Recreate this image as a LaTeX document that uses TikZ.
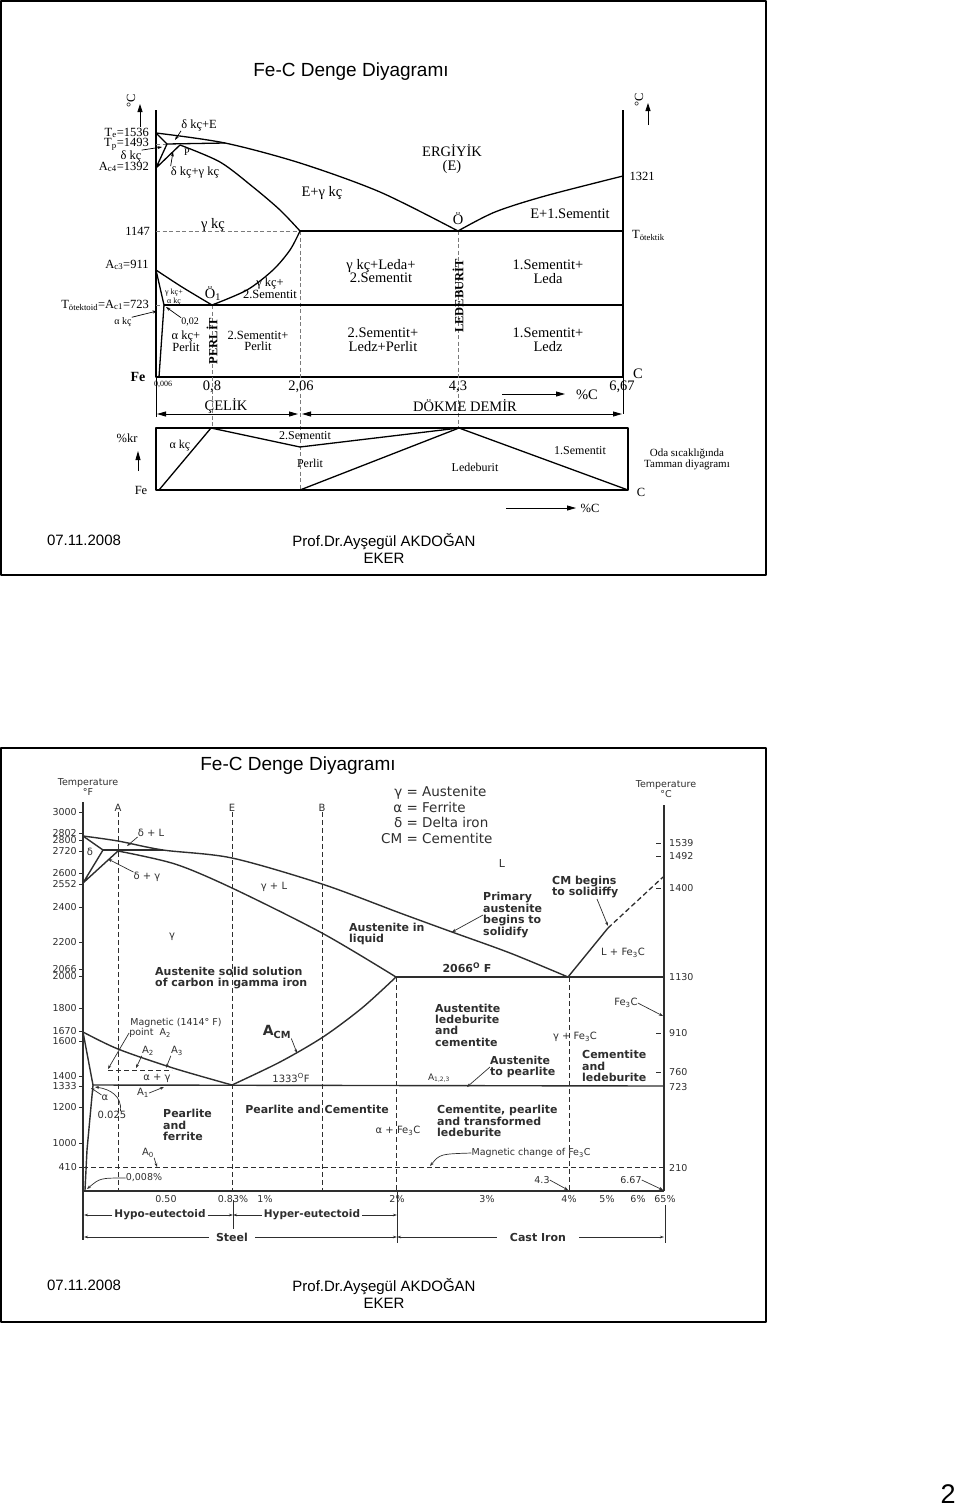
\documentclass[tikz,border=0pt]{standalone}
\usepackage{fontspec}
\setmainfont{Liberation Serif}
\setsansfont{Liberation Sans}
\newfontfamily\gothic{DejaVu Sans}
\usetikzlibrary{arrows.meta}
\definecolor{guidegray}{HTML}{7A7A7A}
\definecolor{plotink}{HTML}{2E2E2E}

\begin{document}
\begin{tikzpicture}[
  x=1pt,
  y=-1pt,
  line join=round,
  slideframe/.style={draw=black,line width=1.8pt},
  slidetitle/.style={font=\sffamily\fontsize{19}{22}\selectfont,inner sep=0pt},
  slidefoot/.style={font=\sffamily\fontsize{15}{17}\selectfont,inner sep=0pt,align=center},
  trline/.style={draw=black,line width=1.3pt},
  trthin/.style={draw=black,line width=0.8pt},
  trguide/.style={draw=guidegray,line width=0.7pt,dash pattern=on 4pt off 2.5pt},
  trlead/.style={draw=black,line width=0.7pt,-{Stealth[length=4.5pt,width=3pt]}},
  trdim/.style={draw=black,line width=0.8pt,-{Triangle[length=9pt,width=5pt]}},
  trdimboth/.style={draw=black,line width=0.8pt,{Triangle[length=9pt,width=5pt]}-{Triangle[length=9pt,width=5pt]}},
  trbig/.style={font=\fontsize{14.5}{13.5}\selectfont,inner sep=0pt,align=center},
  trmid/.style={font=\fontsize{12.5}{11.5}\selectfont,inner sep=0pt,align=center},
  trlow/.style={font=\fontsize{12}{12}\selectfont,inner sep=0pt,align=center},
  trsmall/.style={font=\fontsize{10}{10}\selectfont,inner sep=0pt,align=center},
  trtiny/.style={font=\fontsize{8}{9}\selectfont,inner sep=0pt,align=center},
  trvert/.style={font=\bfseries\fontsize{12.5}{12.5}\selectfont,inner sep=0pt,rotate=90},
  enline/.style={draw=plotink,line width=1.4pt},
  enthin/.style={draw=plotink,line width=0.8pt},
  enguide/.style={draw=plotink,line width=0.9pt,dash pattern=on 5pt off 3pt},
  enlead/.style={draw=plotink,line width=0.7pt,-{Stealth[length=4pt,width=3pt]}},
  endim/.style={draw=plotink,line width=0.7pt,-{Stealth[length=4pt,width=2.5pt]}},
  entick/.style={font=\gothic\fontsize{9.5}{8.5}\selectfont,inner sep=0pt,text=plotink,align=center},
  enlbl/.style={font=\gothic\fontsize{10}{11}\selectfont,inner sep=0pt,text=plotink,align=center},
  enbold/.style={font=\gothic\bfseries\fontsize{11}{11.4}\selectfont,inner sep=0pt,text=plotink,align=left}
]
  \useasboundingbox (0,0) rectangle (960,1507);

  % ---------- Upper slide: Turkish Fe-C diagram ----------
  \draw[slideframe] (1,1) rectangle (766,575);
  \node[slidetitle] (toptitle) at (351,72) {Fe-C Denge Diyagramı};

  % Key points of the diagram.
  \coordinate (te) at (156,133);
  \coordinate (hp) at (167,144);
  \coordinate (jp) at (180,145);
  \coordinate (bp) at (225,143);
  \coordinate (nd) at (156,168);
  \coordinate (eg) at (300,231);
  \coordinate (ot) at (458,231);
  \coordinate (ga) at (156,270);
  \coordinate (pa) at (164,305);
  \coordinate (qa) at (159,377);
  \coordinate (o1) at (212,305);

  % Axes and temperature arrows.
  \draw[trline] (156,110) -- (156,377) -- (623,377);
  \draw[trline] (623,110) -- (623,377);
  \draw[trthin] (156,377) -- (156,417);
  \draw[trthin] (623,377) -- (623,414);
  \draw[trthin,-{Triangle[length=8pt,width=5pt]}] (140,127) -- (140,104);
  \draw[trthin,-{Triangle[length=8pt,width=5pt]}] (648,125) -- (648,103);
  \node[trmid,rotate=90] (degl) at (131,101) {°C};
  \node[trmid,rotate=90] (degr) at (639,100) {°C};

  % Guide lines.
  \draw[trguide] (156,144) -- (hp);
  \draw[trguide] (156,231) -- (eg);
  \draw[trguide] (156,305) -- (pa);
  \draw[trguide] (o1) -- (212,428);
  \draw[trguide] (eg) -- (300,490);
  \draw[trguide] (ot) -- (458,428);

  % Phase boundaries.
  \draw[trline] (te) -- (hp) -- (nd) -- (jp);
  \draw[trline] (hp) -- (bp);
  \draw[trline] plot[smooth] coordinates {(156,133) (225,143) (300,163) (380,192) (458,231)};
  \draw[trline] plot[smooth] coordinates {(180,145) (220,162) (253,187) (280,210) (300,231)};
  \draw[trline] plot[smooth] coordinates {(458,231) (495,212) (545,196) (623,176)};
  \draw[trline] (eg) -- (623,231);
  \draw[trline] plot[smooth] coordinates {(212,305) (247,290) (273,270) (290,250) (300,231)};
  \draw[trline] plot[smooth] coordinates {(156,270) (182,287) (212,305)};
  \draw[trline] (ga) -- (pa) -- (qa);
  \draw[trline] (pa) -- (623,305);

  % Labels, top part.
  \node[trmid,anchor=east] (tlte) at (149,133) {T\textsubscript{e}=1536};
  \node[trmid,anchor=east] (tltp) at (149,144) {T\textsubscript{p}=1493};
  \node[trmid] (tldelta) at (131,156) {δ kç};
  \node[trmid,anchor=east] (tlac4) at (149,167) {A\textsubscript{c4}=1392};
  \node[trmid] (tldl) at (199,125) {δ kç+E};
  \node[trsmall] (tlp) at (187,152) {P};
  \node[trmid] (tldg) at (195,172) {δ kç+γ kç};
  \node[trbig] (tlliq) at (452,159) {ERGİYİK\\(E)};
  \node[trmid] (tl1321) at (642,176) {1321};
  \node[trbig] (tleg) at (322,193) {E+γ kç};
  \node[trbig] (tle1s) at (570,214) {E+1.Sementit};
  \node[trbig] (tlo) at (458,219) {Ö};
  \node[trmid,anchor=west] (tltot) at (632,235) {T\textsubscript{ötektik}};
  \node[trmid,anchor=east] (tl1147) at (150,231) {1147};
  \node[trbig] (tlgam) at (213,225) {γ kç};

  % Labels, middle part.
  \node[trmid] (tlac3) at (127,265) {A\textsubscript{c3}=911};
  \node[trtiny] (tlga) at (174,297) {γ kç+\\α kç};
  \node[trbig] (tlo1) at (213,294) {Ö\textsubscript{1}};
  \node[trmid] (tlgs) at (270,288) {γ kç+\\2.Sementit};
  \node[trbig] (tlgls) at (381,271) {γ kç+Leda+\\2.Sementit};
  \node[trvert] (tlled) at (458,296) {LEDEBURİT};
  \node[trbig] (tlsl) at (548,272) {1.Sementit+\\Leda};
  \node[trmid,anchor=east] (tlac1) at (149,305) {T\textsubscript{ötektoid}=A\textsubscript{c1}=723};
  \node[trsmall] (tlalpha) at (123,322) {α kç};
  \node[trsmall] (tl002) at (190,322) {0,02};
  \node[trmid] (tlap) at (186,341) {α kç+\\Perlit};
  \node[trvert] (tlper) at (212,341) {PERLİT};
  \node[trmid] (tlsp) at (258,341) {2.Sementit+\\Perlit};
  \node[trbig] (tlslp) at (383,340) {2.Sementit+\\Ledz+Perlit};
  \node[trbig] (tlsz) at (548,340) {1.Sementit+\\Ledz};

  % Leader arrows, top diagram.
  \coordinate (dlpt) at (175,140);
  \coordinate (dkpt) at (162,147);
  \coordinate (dgpt) at (173,152);
  \coordinate (akpt) at (157,311);
  \coordinate (c02pt) at (166,307);
  \draw[trlead] (tldl.south west) -- (dlpt);
  \draw[trlead] (tldelta.north east) -- (dkpt);
  \draw[trlead] (tldg.north west) -- (dgpt);
  \draw[trlead] (tlalpha.north east) -- (akpt);
  \draw[trlead] (tl002.north west) -- (c02pt);

  % Composition axis.
  \node[trbig,font=\bfseries\fontsize{14}{14}\selectfont] (tlfe) at (138,377) {Fe};
  \node[trtiny] (tl0006) at (163,384) {0,006};
  \node[trbig] (tl08) at (212,387) {0,8};
  \node[trbig] (tl206) at (301,387) {2,06};
  \node[trbig] (tl43) at (458,387) {4,3};
  \node[trbig] (tl667) at (622,387) {6,67};
  \node[trbig] (tlc) at (638,374) {C};
  \node[trbig] (tlpc) at (587,395) {\%C};
  \draw[trdim] (502,394) -- (565,394);
  \node[trbig] (tlcel) at (226,406) {ÇELİK};
  \node[trbig] (tldok) at (465,406) {DÖKME DEMİR};
  \draw[trdimboth] (157,414) -- (298,414);
  \draw[trdimboth] (302,414) -- (622,414);

  % Room temperature structure diagram.
  \draw[trline] (156,428) rectangle (628,490);
  \draw[trline] (159,490) -- (211,428) -- (300,447) -- (459,428) -- (628,490);
  \draw[trline] (300,490) -- (459,428);
  \node[trmid] (tlkr) at (127,438) {\%kr};
  \draw[trdim] (138,471) -- (138,451);
  \node[trlow] (tlak) at (180,446) {α kç};
  \node[trlow] (tl2s) at (305,436) {2.Sementit};
  \node[trlow] (tlpl) at (310,463) {Perlit};
  \node[trlow] (tlld) at (475,467) {Ledeburit};
  \node[trlow] (tl1s) at (580,451) {1.Sementit};
  \node[trsmall,font=\fontsize{11}{11}\selectfont] (tloda) at (687,459) {Oda sıcaklığında\\Tamman diyagramı};
  \node[trmid] (tlfe2) at (141,490) {Fe};
  \node[trmid] (tlc2) at (641,492) {C};
  \node[trmid] (tlpc2) at (590,508) {\%C};
  \draw[trdim] (506,508) -- (576,508);

  \node[slidefoot] (topdate) at (84,540) {07.11.2008};
  \node[slidefoot] (topauthor) at (384,548) {Prof.Dr.Ayşegül AKDOĞAN\\EKER};

  % ---------- Lower slide: English Fe-C diagram ----------
  \draw[slideframe] (1,748) rectangle (766,1322);
  \node[slidetitle] (bottitle) at (298,766) {Fe-C Denge Diyagramı};

  \node[entick] (tempf) at (88,787) {Temperature\\°F};
  \node[entick] (tempc) at (666,789) {Temperature\\°C};

  % Axes.
  \coordinate (axl) at (84,1191);
  \coordinate (ax083) at (233,1191);
  \coordinate (ax2) at (397,1191);
  \coordinate (axr) at (664,1191);
  \draw[enline] (83,802) -- (83,1240);
  \draw[enline] (83,1191) -- (664,1191);
  \draw[enline] (664,805) -- (664,1191);
  \draw[enthin] (665,1205) -- (665,1243);
  \draw[enthin] (233,1200) -- (233,1229);
  \draw[enthin] (397,1191) -- (397,1243);

  \foreach \ty/\tv in {812/3000,833/2802,840/2800,851/2720,873/2600,884/2552,907/2400,942/2200,969/2066,976/2000,1008/1800,1031/1670,1041/1600,1076/1400,1086/1333,1107/1200,1143/1000,1167/410} {
    \draw[enthin] (79,\ty) -- (83,\ty);
    \node[entick,anchor=east] (fl\tv) at (77,\ty) {\tv};
  }
  \foreach \ty/\tv in {843/1539,856/1492,888/1400,977/1130,1033/910,1072/760,1087/723,1168/210} {
    \node[entick,anchor=west] (fr\tv) at (669,\ty) {\tv};
  }
  \foreach \ty in {843,856,888,1033,1072} {
    \draw[enthin] (656,\ty) -- (661,\ty);
  }

  % Composition guides.
  \foreach \gx/\gn in {118/A,232/E,322/B} {
    \node[enlbl] (col\gn) at (\gx,808) {\gn};
    \draw[enguide] (col\gn.south) -- (\gx,1191);
  }
  \draw[enguide] (396,977) -- (396,1191);
  \draw[enguide] (569,977) -- (569,1191);
  \draw[enguide] (108,1070) -- (172,1070);
  \draw[enguide] (83,1167) -- (664,1167);

  % Phase boundaries.
  \draw[enline] plot[smooth] coordinates {(83,836) (118,841) (163,850) (232,858) (322,884) (400,913) (452,932) (510,953) (568,977)};
  \draw[enline] (83,836) -- (103,850) -- (83,883) -- (118,851);
  \draw[enline] (103,850) -- (163,850);
  \draw[enline] plot[smooth] coordinates {(118,851) (175,864) (232,888) (322,933) (396,977)};
  \draw[enline] (396,977) -- (664,977);
  \draw[enline] plot[smooth] coordinates {(396,977) (362,1008) (323,1037) (280,1062) (232,1085)};
  \draw[enline] (568,977) -- (608,928);
  \draw[enguide,line width=1.3pt] (608,928) -- (663,877);
  \draw[enline] plot[smooth] coordinates {(83,1032) (118,1049) (173,1068) (232,1085)};
  \draw[enline] (83,1032) -- (93,1085) -- (87,1150) -- (85,1190);
  \draw[enline] (93,1085) -- (664,1086);

  % Legend.
  \node[font=\gothic\fontsize{13.5}{15.6}\selectfont,text=plotink,inner sep=0pt,anchor=west] (legend) at (381,817)
    {\begin{tabular}{@{}r@{ = }l@{}}γ&Austenite\\α&Ferrite\\δ&Delta iron\\CM&Cementite\end{tabular}};

  % Region labels.
  \node[enlbl] (dlab) at (90,852) {δ};
  \node[enlbl] (dl) at (151,833) {δ + L};
  \node[enlbl] (dg) at (147,877) {δ + γ};
  \node[enlbl] (gl) at (274,887) {γ + L};
  \node[enlbl] (gam) at (172,937) {γ};
  \node[enlbl,font=\gothic\fontsize{11}{11}\selectfont] (liq) at (502,863) {L};
  \node[enbold,anchor=west] (ainl) at (349,934) {Austenite in\\liquid};
  \node[enbold,anchor=west] (prim) at (483,915) {Primary\\austenite\\begins to\\solidify};
  \node[enbold,anchor=west] (cmb) at (552,887) {CM begins\\to solidiffy};
  \node[enlbl] (lfe) at (623,953) {L + Fe\textsubscript{3}C};
  \node[enbold] (t2066) at (467,968) {2066\textsuperscript{O} F};
  \node[enbold,anchor=west] (astsol) at (155,978) {Austenite solid solution\\of carbon in gamma iron};
  \node[enbold,anchor=west] (ald) at (435,1025) {Austentite\\ledeburite\\and\\cementite};
  \node[enlbl] (fe3c) at (626,1003) {Fe\textsubscript{3}C};
  \node[enlbl] (gfe) at (575,1037) {γ + Fe\textsubscript{3}C};
  \node[enbold,anchor=west] (atp) at (490,1067) {Austenite\\to pearlite};
  \node[enlbl,font=\gothic\fontsize{9}{9}\selectfont] (a123) at (439,1078) {A\textsubscript{1,2,3}};
  \node[enbold,anchor=west] (cal) at (582,1066) {Cementite\\and\\ledeburite};
  \node[enbold,anchor=west] (cpt) at (437,1121) {Cementite, pearlite\\and transformed\\ledeburite};
  \node[enlbl] (afe) at (398,1131) {α + Fe\textsubscript{3}C};
  \node[enlbl,font=\gothic\fontsize{9.5}{10}\selectfont] (magc) at (531,1153) {Magnetic change of Fe\textsubscript{3}C};
  \node[enlbl,font=\gothic\fontsize{9.5}{10}\selectfont] (magp) at (176,1023) {Magnetic (1414° F)};
  \node[enlbl,font=\gothic\fontsize{9.5}{10}\selectfont] (magpt) at (150,1033) {point\ \ A\textsubscript{2}};
  \node[enlbl] (a2) at (148,1051) {A\textsubscript{2}};
  \node[enlbl] (a3) at (177,1051) {A\textsubscript{3}};
  \node[enlbl] (ag) at (157,1078) {α + γ};
  \node[enlbl] (a1) at (143,1093) {A\textsubscript{1}};
  \node[enlbl] (alab) at (105,1098) {α};
  \node[enlbl] (c025) at (112,1115) {0.025};
  \node[enbold,font=\gothic\bfseries\fontsize{14}{14}\selectfont] (acm) at (277,1032) {A\textsubscript{CM}};
  \node[enlbl] (t1333) at (291,1078) {1333\textsuperscript{O}F};
  \node[enbold] (pc) at (317,1109) {Pearlite and Cementite};
  \node[enbold,anchor=west] (pf) at (163,1125) {Pearlite\\and\\ferrite};
  \node[enlbl] (a0) at (148,1153) {A\textsubscript{0}};
  \node[enlbl,font=\gothic\fontsize{9.5}{10}\selectfont] (c008) at (144,1178) {0,008\%};
  \node[enlbl,font=\gothic\fontsize{9.5}{10}\selectfont] (c43) at (542,1180) {4.3};
  \node[enlbl,font=\gothic\fontsize{9.5}{10}\selectfont] (c667) at (631,1180) {6.67};

  % Leader arrows, lower diagram.
  \coordinate (dlpt2) at (127,846);
  \coordinate (dgpt2) at (108,859);
  \coordinate (prpt) at (452,932);
  \coordinate (cmst) at (597,899);
  \coordinate (cmpt) at (608,926);
  \coordinate (mgpt) at (108,1069);
  \coordinate (a2pt) at (136,1068);
  \coordinate (a3pt) at (166,1068);
  \coordinate (a1pt) at (164,1087);
  \coordinate (alpt) at (91,1088);
  \coordinate (c25pt) at (95,1087);
  \coordinate (a0pt) at (157,1167);
  \coordinate (acmpt) at (297,1053);
  \coordinate (fe3pt) at (663,1016);
  \coordinate (atppt) at (467,1087);
  \coordinate (mcpt) at (430,1166);
  \coordinate (c08pt) at (87,1189);
  \coordinate (c43pt) at (568,1190);
  \coordinate (c67pt) at (663,1190);
  \draw[enlead] (dl.south west) -- (dlpt2);
  \draw[enlead] (dg.north west) -- (dgpt2);
  \draw[enlead] (prim.west) -- (prpt);
  \draw[enlead] (cmst) -- (cmpt);
  \draw[enlead] (magpt.west) -- (mgpt);
  \draw[enlead] (a2.south west) -- (a2pt);
  \draw[enlead] (a3.south west) -- (a3pt);
  \draw[enlead] (a1.east) -- (a1pt);
  \draw[enlead] (alab.north west) -- (alpt);
  \draw[enlead] ([xshift=-6pt]c025.north east) .. controls (122,1096) and (110,1089) .. (c25pt);
  \draw[enlead] (a0.south east) -- (a0pt);
  \draw[enlead] (acm.south east) -- (acmpt);
  \draw[enlead] (fe3c.east) -- (fe3pt);
  \draw[enlead] (atp.west) -- (atppt);
  \draw[enlead] (magc.west) .. controls (440,1154) .. (mcpt);
  \draw[enlead] (c008.west) .. controls (100,1178) .. (c08pt);
  \draw[enlead] (c43.east) -- (c43pt);
  \draw[enlead] (c667.east) -- (c67pt);

  % Composition labels and ranges.
  \foreach \px/\pv [count=\pn] in {166/0.50,233/0.83\%,265/1\%,397/2\%,487/3\%,569/4\%,607/5\%,638/6\%,665/65\%} {
    \node[entick] (bx\pn) at (\px,1199) {\pv};
  }
  \node[enbold,font=\gothic\bfseries\fontsize{10.5}{11}\selectfont,inner xsep=2pt] (hypo) at (160,1215) {Hypo-eutectoid};
  \node[enbold,font=\gothic\bfseries\fontsize{10.5}{11}\selectfont,inner xsep=2pt] (hyper) at (312,1215) {Hyper-eutectoid};
  \node[enbold,inner xsep=7pt] (steel) at (232,1237) {Steel};
  \node[enbold,inner xsep=13pt] (cast) at (538,1237) {Cast Iron};
  \draw[endim] (hypo.west) -- (hypo.west -| axl);
  \draw[endim] (hypo.east) -- (hypo.east -| ax083);
  \draw[endim] (hyper.west) -- (hyper.west -| ax083);
  \draw[endim] (hyper.east) -- (hyper.east -| ax2);
  \draw[endim] (steel.west) -- (steel.west -| axl);
  \draw[endim] (steel.east) -- (steel.east -| ax2);
  \draw[endim] (cast.west) -- (cast.west -| ax2);
  \draw[endim] (cast.east) -- (cast.east -| axr);

  \node[slidefoot] (botdate) at (84,1285) {07.11.2008};
  \node[slidefoot] (botauthor) at (384,1293) {Prof.Dr.Ayşegül AKDOĞAN\\EKER};

  \node[font=\sffamily\fontsize{27}{30}\selectfont,inner sep=0pt] (pagenum) at (948,1494) {2};
\end{tikzpicture}
\end{document}
